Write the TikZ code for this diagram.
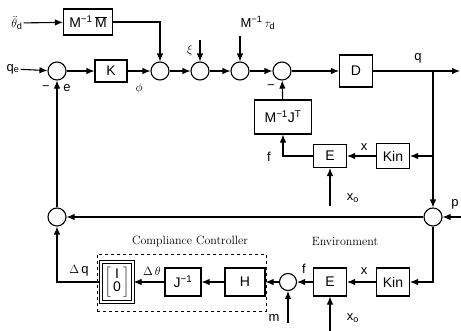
\documentclass[tikz,border=0pt]{standalone}
\usepackage{fontspec}
\setsansfont{Liberation Sans}
\usetikzlibrary{arrows.meta}
\begin{document}
\begin{tikzpicture}[
  x=1pt, y=-1pt,
  box/.style={draw, line width=1.1pt, font=\sffamily\fontsize{14}{15}\selectfont, inner sep=2pt},
  sum/.style={draw, circle, line width=1.1pt, minimum size=18pt, inner sep=0pt},
  sig/.style={-{Latex[length=8pt,width=6.5pt]}, line width=1.1pt},
  lbl/.style={font=\sffamily\fontsize{13}{14}\selectfont, inner sep=1pt},
  ttl/.style={font=\rmfamily\fontsize{12}{14}\selectfont},
]
  \useasboundingbox (0,0) rectangle (461,330);

  % forward path
  \node[sum] (s1) at ( 57,71) {};
  \node[box, minimum width=32, minimum height=22] (K) at (111,71) {K};
  \node[sum] (s2) at (160,71) {};
  \node[sum] (s3) at (200,71) {};
  \node[sum] (s4) at (240,71) {};
  \node[sum] (s5) at (282,71) {};
  \node[box, minimum width=33, minimum height=32] (D) at (356,71) {D};
  \node[box, minimum width=49, minimum height=26] (mm) at (88,22) {M\textsuperscript{−1}\,$\overline{\mbox{M}}$};

  \node[lbl] (thd) at (17,23) {$\ddot{\theta}_{\mathsf{d}}$};
  \node[lbl] (qe)  at (13,69) {q\textsubscript{e}};
  \coordinate (xit)  at (200,40);
  \coordinate (taut) at (240,36);
  \coordinate (qb)   at (433,71);
  \coordinate (qout) at (460,71);
  \node[lbl] at (190,50) {$\xi$};
  \node[lbl] at (258,23) {M\textsuperscript{−1}\,$\tau_{\mathsf{d}}$};
  \node[lbl] at (67,88) {e};
  \node[lbl] at (139,88) {$\phi$};
  \node[lbl] at (46,88) {−};
  \node[lbl] at (271,87) {−};
  \node[lbl] at (418,58) {q};

  \draw[sig] (thd) -- (mm);
  \draw[sig] (qe) -- (s1);
  \draw[sig] (s1) -- (K);
  \draw[sig] (K) -- (s2);
  \draw[sig] (mm) -| (s2);
  \draw[sig] (s2) -- (s3);
  \draw[sig] (xit) -- (s3);
  \draw[sig] (s3) -- (s4);
  \draw[sig] (taut) -- (s4);
  \draw[sig] (s4) -- (s5);
  \draw[sig] (s5) -- (D);
  \draw[line width=1.1pt] (D) -- (qb);
  \draw[sig] (qb) -- (qout);

  % robot force feedback
  \node[box, minimum width=57, minimum height=34] (mj) at (283,117) {M\textsuperscript{−1}J\textsuperscript{T}};
  \node[box, minimum width=33, minimum height=23] (e1) at (330,156) {E};
  \node[box, minimum width=33, minimum height=25] (kin1) at (393,156) {Kin};
  \coordinate (xo1t) at (330,206);
  \node[lbl] at (353,198) {x\textsubscript{o}};
  \node[lbl] at (364,147) {x};
  \node[lbl] at (269,157) {f};

  \draw[sig] (qb |- kin1) -- (kin1);
  \draw[sig] (kin1) -- (e1);
  \draw[sig] (e1.west) -| (mj.south);
  \draw[sig] (mj) -- (s5);
  \draw[sig] (xo1t) -- (e1);

  % position feedback
  \node[sum] (s6) at (433,217) {};
  \node[sum] (s7) at ( 57,217) {};
  \coordinate (pin) at (462,217);
  \node[lbl] at (455,204) {p};

  \draw[sig] (qb) -- (s6);
  \draw[sig] (pin) -- (s6);
  \draw[sig] (s6) -- (s7);
  \draw[sig] (s7) -- (s1);

  % environment and compliance controller
  \node[box, minimum width=33, minimum height=28] (kin2) at (393,282) {Kin};
  \node[box, minimum width=33, minimum height=28] (e2) at (330,282) {E};
  \node[sum, minimum size=17] (s8) at (288,282) {};
  \node[box, minimum width=40, minimum height=28] (H) at (245,282) {H};
  \node[box, minimum width=36, minimum height=28] (jinv) at (183,282) {J\textsuperscript{−1}};
  \node[box, double, double distance=1.6pt, minimum width=32, minimum height=40] (io) at (117,282)
    {$\left[\begin{array}{@{\,}c@{\,}}\mbox{I}\\[-2pt] \mbox{0}\end{array}\right]$};
  \node[draw, dashed, line width=0.9pt, minimum width=169, minimum height=57, inner sep=0pt] (cc) at (181.5,282.5) {};
  \node[ttl] at (190,241) {Compliance Controller};
  \node[ttl] at (345,241) {Environment};

  \coordinate (xo2t) at (330,331);
  \coordinate (mt)   at (288,323);
  \node[lbl] at (353,318) {x\textsubscript{o}};
  \node[lbl] at (274,318) {m};
  \node[lbl] at (364,271) {x};
  \node[lbl] at (304,269) {f};
  \node[lbl] at (152,271) {$\Delta\,\theta$};
  \node[lbl] at (79,271) {$\Delta\,$q};

  \draw[sig] (s6) |- (kin2);
  \draw[sig] (kin2) -- (e2);
  \draw[sig] (xo2t) -- (e2);
  \draw[sig] (e2) -- (s8);
  \draw[sig] (mt) -- (s8);
  \draw[sig] (s8) -- (H);
  \draw[sig] (H) -- (jinv);
  \draw[sig] (jinv) -- (io);
  \draw[sig] (io.west) -| (s7);
\end{tikzpicture}
\end{document}
